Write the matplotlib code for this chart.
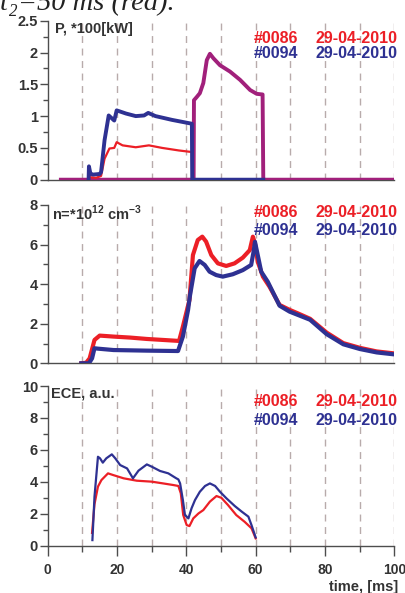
import matplotlib
matplotlib.use("Agg")
import matplotlib.pyplot as plt
from matplotlib.ticker import MultipleLocator

plt.rcParams['font.family'] = ['Liberation Sans', 'DejaVu Sans']
plt.rcParams['mathtext.fontset'] = 'custom'
plt.rcParams['mathtext.rm'] = 'Liberation Sans'
plt.rcParams['mathtext.bf'] = 'Liberation Sans:bold'

RED = '#ec1f26'
BLUE = '#2e3192'
PURPLE = '#a1207b'
GREY = '#4d4d4d'
DASH = '#b8abab'

# ---- panel 1 : power, *100 kW ----
p_red_t = [11.8, 12.0, 14.0, 15.4, 16.4, 17.8, 19.2, 19.9, 21.6, 25.4, 29.2, 33.0, 37.8, 41.6, 41.7]
p_red = [0.0, 0.04, 0.03, 0.06, 0.33, 0.49, 0.50, 0.59, 0.54, 0.51, 0.54, 0.50, 0.46, 0.435, 0.0]

p_blue_t = [11.8, 11.9, 12.3, 13.0, 15.0, 15.4, 16.4, 17.6, 19.2, 19.9, 22.6, 25.4, 27.8, 29.0,
            31.1, 35.9, 41.6, 41.7, 62.2]
p_blue = [0.0, 0.21, 0.10, 0.08, 0.09, 0.12, 0.62, 1.01, 0.93, 1.09, 1.04, 1.00, 1.01, 1.05,
          1.00, 0.94, 0.88, 0.0, 0.0]

p_both_t = [3.8, 42.1, 42.2, 43.0, 43.9, 44.9, 45.9, 46.8, 47.8, 49.7, 52.6, 55.5, 58.4,
            60.3, 62.0, 62.2, 100.0]
p_both = [0.0, 0.0, 1.25, 1.30, 1.36, 1.52, 1.88, 1.98, 1.91, 1.80, 1.70, 1.57, 1.41,
          1.35, 1.34, 0.0, 0.0]

# ---- panel 2 : density, 10^12 cm^-3 ----
n_red_t = [9.7, 11.1, 12.1, 13.5, 15.0, 19.0, 23.8, 28.6, 33.3, 37.9, 39.0, 40.9, 41.9, 43.3,
           44.6, 45.7, 47.2, 49.1, 51.5, 53.9, 56.3, 58.3, 59.2, 59.8, 60.6, 62.1, 64.0, 66.9,
           69.8, 72.1, 75.7, 80.5, 85.3, 90.1, 94.9, 100.0]
n_red = [0.0, 0.03, 0.25, 1.18, 1.40, 1.35, 1.30, 1.23, 1.18, 1.13, 1.85, 3.20, 5.47, 6.23,
         6.40, 6.15, 5.47, 5.05, 4.92, 5.05, 5.34, 5.72, 6.40, 6.06, 5.13, 4.38, 3.87, 2.95,
         2.70, 2.53, 2.25, 1.55, 1.02, 0.78, 0.60, 0.50]

n_blue_t = [9.7, 11.9, 12.8, 13.5, 14.5, 19.0, 28.6, 37.6, 39.0, 40.5, 41.0, 42.4, 43.8, 45.3,
            46.7, 48.6, 50.5, 53.4, 56.3, 58.7, 59.4, 59.8, 60.4, 61.6, 63.5, 66.9, 69.8,
            75.7, 80.5, 85.3, 90.1, 94.9, 100.0]
n_blue = [0.0, 0.0, 0.25, 0.76, 0.74, 0.67, 0.64, 0.62, 1.35, 2.70, 3.37, 4.80, 5.17, 4.97,
          4.63, 4.46, 4.38, 4.50, 4.71, 4.97, 5.64, 6.14, 5.64, 4.63, 4.12, 2.91, 2.61,
          2.20, 1.47, 0.96, 0.72, 0.55, 0.45]

# ---- panel 3 : ECE, a.u. ----
e_red_t = [12.8, 13.5, 14.5, 15.5, 17.4, 18.8, 21.9, 25.7, 30.0, 33.3, 36.2, 37.7, 38.4, 39.1,
           40.1, 40.9, 42.0, 43.5, 44.9, 46.8, 48.7, 50.1, 52.0, 54.4, 56.8, 58.8, 60.0]
e_red = [0.8, 2.6, 3.70, 4.11, 4.53, 4.43, 4.22, 4.07, 4.01, 3.90, 3.80, 3.74, 3.28, 1.92,
         1.29, 1.23, 1.71, 2.02, 2.23, 2.76, 3.11, 3.00, 2.55, 1.92, 1.50, 1.09, 0.46]

e_blue_t = [12.9, 13.5, 14.5, 15.1, 15.9, 16.9, 18.5, 19.5, 20.9, 22.9, 24.6, 26.2, 28.6,
            30.0, 32.4, 34.8, 37.1, 37.7, 38.2, 39.0, 39.6, 40.6, 41.5, 42.5, 43.9, 45.4,
            46.8, 48.3, 49.7, 51.6, 54.0, 56.0, 57.9, 58.8, 60.0]
e_blue = [0.35, 3.07, 5.57, 5.47, 5.20, 5.47, 5.72, 5.47, 5.05, 4.84, 4.22, 4.70, 5.09,
          4.95, 4.68, 4.53, 4.22, 4.15, 3.90, 2.86, 1.92, 1.71, 2.34, 2.86, 3.38, 3.74,
          3.90, 3.74, 3.38, 2.96, 2.48, 2.13, 1.82, 1.29, 0.52]

shots = ['#0086', '#0094']
dates = ['29-04-2010', '29-04-2010']
panel_labels = ['P, *100[kW]', r'n=*10$^{\mathbf{12}}$ cm$^{\mathbf{-3}}$', 'ECE, a.u.']
x_ticks = [0, 20, 40, 60, 80, 100]

W, H = 405, 593
fig = plt.figure(figsize=(W / 100, H / 100), dpi=100)


def make_axes(top_px, bottom_px):
    left, right = 47.7, 394.3
    return fig.add_axes([left / W, 1 - bottom_px / H, (right - left) / W, (bottom_px - top_px) / H])


ax1 = make_axes(20.7, 179.7)
ax2 = make_axes(205.0, 363.3)
ax3 = make_axes(386.0, 545.7)

limits = [(2.5, 0.5, 0.25), (8, 2, 1), (10, 2, 1)]
for ax, (ymax, major, minor) in zip([ax1, ax2, ax3], limits):
    ax.set_xlim(0, 100)
    ax.set_ylim(0, ymax)
    for t in range(10, 101, 10):
        ax.axvline(t, color=DASH, lw=1.0, ls=(0, (5, 4)), zorder=0)
    for s in ['top', 'right']:
        ax.spines[s].set_visible(False)
    for s in ['left', 'bottom']:
        ax.spines[s].set_color(GREY)
        ax.spines[s].set_linewidth(1.0)
    ax.yaxis.set_major_locator(MultipleLocator(major))
    ax.yaxis.set_minor_locator(MultipleLocator(minor))
    ax.tick_params(axis='y', which='major', direction='out', length=5.5, width=1, color=GREY,
                   labelsize=10.5, labelcolor='#333333', pad=1.5)
    ax.tick_params(axis='y', which='minor', direction='out', length=3.5, width=1, color=GREY)
    ax.set_yticklabels([('%g' % v) for v in ax.get_yticks()], fontweight='bold')

for ax in [ax1, ax2]:
    ax.set_xticks([])

ax3.set_xticks(x_ticks)
ax3.xaxis.set_minor_locator(MultipleLocator(10))
ax3.set_xticklabels([str(v) for v in x_ticks], fontweight='bold')
ax3.tick_params(axis='x', which='major', direction='out', length=7, width=1, color=GREY,
                labelsize=10, labelcolor='#333333', pad=5.5)
ax3.tick_params(axis='x', which='minor', direction='out', length=4, width=1, color=GREY)

# curves
ax1.plot(p_both_t, p_both, color=PURPLE, lw=2.8, zorder=3)
ax1.plot(p_red_t, p_red, color=RED, lw=1.6, zorder=4)
ax1.plot(p_blue_t, p_blue, color=BLUE, lw=2.8, zorder=4)

ax2.plot(n_red_t, n_red, color=RED, lw=3.0, zorder=3)
ax2.plot(n_blue_t, n_blue, color=BLUE, lw=3.0, zorder=4)

ax3.plot(e_red_t, e_red, color=RED, lw=1.6, zorder=3)
ax3.plot(e_blue_t, e_blue, color=BLUE, lw=1.6, zorder=4)

# panel labels
label_pos = [(0.021, 0.946), (0.0115, 0.948), (0.009, 0.95)]
for ax, text, (x, y) in zip([ax1, ax2, ax3], panel_labels, label_pos):
    ax.text(x, y, text, transform=ax.transAxes, fontsize=10.5, fontweight='bold',
            color='#333333', ha='left', va='center')

# shot legends
legend_rows = [(0.885, 0.795), (0.951, 0.842), (0.902, 0.783)]
for ax, rows in zip([ax1, ax2, ax3], legend_rows):
    for y, shot, date, col in zip(rows, shots, dates, [RED, BLUE]):
        ax.text(0.595, y, shot, transform=ax.transAxes, fontsize=11.5, fontweight='bold',
                color=col, ha='left', va='center', zorder=6)
        ax.text(1.0106, y, date, transform=ax.transAxes, fontsize=11.5, fontweight='bold',
                color=col, ha='right', va='center', zorder=6, clip_on=False)

fig.text(398 / W, 1 - 586.7 / H, 'time, [ms]', fontsize=10.5, fontweight='bold',
         color='#333333', ha='right', va='center')

# caption fragment cut at the top of the page, as in the source scan
fig.text(0.0, 1 - 10 / H, 't\u2082=50 ms (red).', fontsize=20.5, style='italic',
         family=['Liberation Serif', 'DejaVu Serif'], color='#222222', ha='left', va='baseline')

fig.savefig('out.png', dpi=100)
